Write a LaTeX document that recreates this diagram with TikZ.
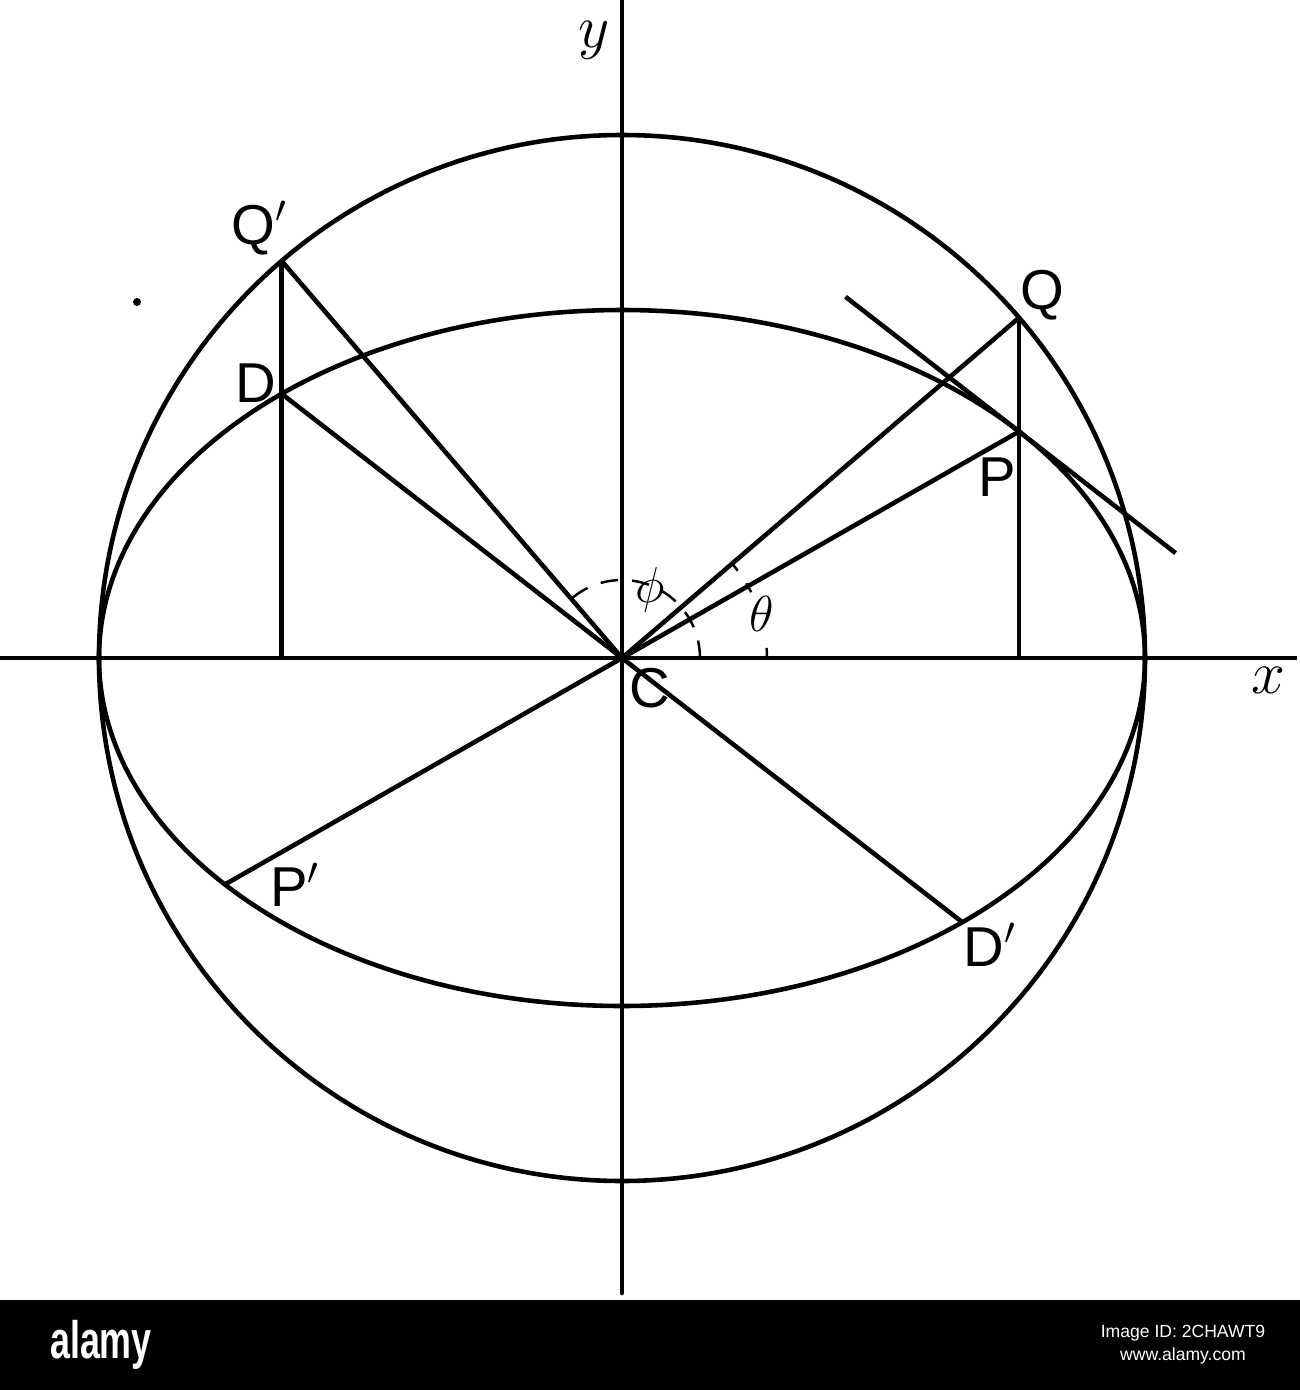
\documentclass[tikz,border=0pt]{standalone}
\usepackage{fontspec}
\setsansfont{Liberation Sans}
\usetikzlibrary{calc}

\begin{document}
\begin{tikzpicture}[line width=1.3pt,
    lbl/.style={font=\sffamily\fontsize{16}{18}\selectfont},
    angl/.style={font=\fontsize{14}{16}\selectfont},
    axl/.style={font=\fontsize{18}{20}\selectfont},
    angarc/.style={line width=0.7pt,dash pattern=on 5pt off 4pt},
    stripnote/.style={white,font=\sffamily\fontsize{5}{6}\selectfont}]
        \useasboundingbox (-6.22,-7.32) rectangle (6.78,6.58);
        \def\rcirc{5.23}
        \def\rell{3.48}
        \def\angT{40.6}
        \def\angF{130.6}

        % points
        \coordinate (C) at (0,0);
        \coordinate (Q) at (\angT:\rcirc);
        \coordinate (P) at ({\rcirc*cos(\angT)},{\rell*sin(\angT)});
        \coordinate (Qp) at (\angF:\rcirc);
        \coordinate (D) at ({\rcirc*cos(\angF)},{\rell*sin(\angF)});
        \coordinate (Pp) at ({-\rcirc*cos(\angT)},{-\rell*sin(\angT)});
        \coordinate (Dp) at ({-\rcirc*cos(\angF)},{-\rell*sin(\angF)});
        \coordinate (Qf) at (Q |- C);
        \coordinate (Qpf) at (Qp |- C);
        \coordinate (tA) at ($(P)+({-0.51*\rcirc*sin(\angT)},{0.51*\rell*cos(\angT)})$);
        \coordinate (tB) at ($(P)+({0.46*\rcirc*sin(\angT)},{-0.46*\rell*cos(\angT)})$);
        \coordinate (xl) at (-6.22,0);
        \coordinate (xr) at (6.75,0);
        \coordinate (yt) at (0,6.58);
        \coordinate (yb) at (0,-6.35);

        % axes
        \draw (xl) -- (xr);
        \draw[line cap=round] (yt) -- (yb);

        % circle and ellipse
        \draw (C) circle (\rcirc);
        \draw (C) ellipse ({\rcirc} and {\rell});

        % radii and ordinates
        \draw (C) -- (Q);
        \draw (C) -- (P);
        \draw (C) -- (Qp);
        \draw (C) -- (D);
        \draw (C) -- (Pp);
        \draw (C) -- (Dp);
        \draw (Q) -- (Qf);
        \draw (Qp) -- (Qpf);
        \draw (tA) -- (tB);

        % angles
        \draw[angarc] (0.78,0) arc (0:\angF:0.78);
        \foreach \a in {0,27,37}
            \draw[line width=0.7pt] (\a:1.45) arc (\a:\a+4:1.45);

        \fill (-4.85,3.56) circle (0.04);

        % labels
        \node[lbl] (lQp) at (-3.62,4.30) {Q$'$};
        \node[lbl] (lD) at (-3.66,2.75) {D};
        \node[lbl] (lQ) at (4.20,3.63) {Q};
        \node[lbl] (lP) at (3.75,1.81) {P};
        \node[lbl] (lC) at (0.28,-0.30) {C};
        \node[lbl] (lPp) at (-3.27,-2.27) {P$'$};
        \node[lbl] (lDp) at (3.68,-2.87) {D$'$};
        \node[angl] (lph) at (0.28,0.68) {$\phi$};
        \node[angl] (lth) at (1.40,0.44) {$\theta$};
        \node[axl] (ly) at (-0.28,6.18) {$y$};
        \node[axl] (lx) at (6.46,-0.22) {$x$};

        % strip
        \fill[black] (-6.22,-7.32) rectangle (6.78,-6.42);
        \node[white,font=\sffamily\bfseries\fontsize{15}{16}\selectfont,xscale=0.68] (logo) at (-5.21,-6.87) {alamy};
        \node[stripnote] (imgid) at (5.61,-6.75) {Image ID: 2CHAWT9};
        \node[stripnote] (web) at (5.61,-6.98) {www.alamy.com};
\end{tikzpicture}
\end{document}
